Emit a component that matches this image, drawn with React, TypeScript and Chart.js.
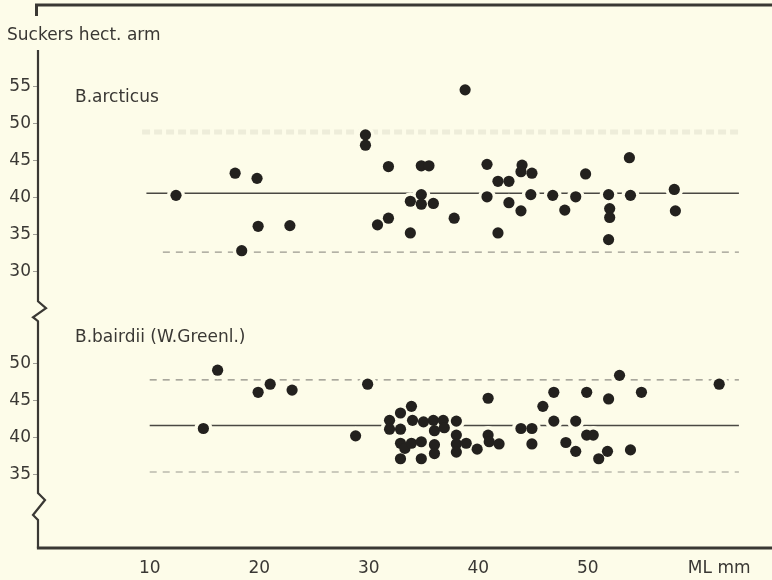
import { useEffect, useRef } from 'react';
import { Chart, registerables } from 'chart.js';

Chart.register(...registerables);

// ---- data ----
const arcticusML = [12.4, 17.8, 18.4, 19.8, 19.9, 22.8, 29.7, 29.7, 30.8, 31.8, 31.8, 33.8, 33.8, 34.8, 35.5, 34.8, 34.8, 35.9, 37.8, 38.8, 40.8, 40.8, 41.8, 41.8, 42.8, 42.8, 44.0, 43.9, 44.9, 43.9, 44.8, 46.8, 47.9, 48.9, 49.8, 51.9, 52.0, 52.0, 51.9, 53.8, 53.9, 57.9, 58.0];
const arcticusSuckers = [40.3, 43.3, 32.8, 42.6, 36.1, 36.2, 48.5, 47.1, 36.3, 44.2, 37.2, 39.5, 35.2, 44.3, 44.3, 40.4, 39.1, 39.2, 37.2, 54.6, 44.5, 40.1, 42.2, 35.2, 42.2, 39.3, 44.4, 43.5, 43.3, 38.2, 40.4, 40.3, 38.3, 40.1, 43.2, 40.4, 38.5, 37.3, 34.3, 45.4, 40.3, 41.1, 38.2];

const bairdiiML = [14.9, 16.2, 19.9, 21.0, 23.0, 28.8, 29.9, 31.9, 31.9, 32.9, 32.9, 32.9, 32.9, 33.3, 33.9, 34.0, 33.9, 34.8, 34.8, 35.0, 35.9, 36.8, 36.0, 36.9, 36.0, 36.0, 38.0, 38.0, 38.0, 38.0, 38.9, 39.9, 40.9, 40.9, 41.0, 41.9, 43.9, 44.9, 44.9, 45.9, 46.9, 46.9, 48.0, 48.9, 48.9, 49.9, 49.9, 50.5, 51.0, 51.8, 51.9, 52.9, 53.9, 54.9, 62.0];
const bairdiiSuckers = [41.2, 49.1, 46.1, 47.2, 46.4, 40.2, 47.2, 42.3, 41.1, 43.3, 41.1, 39.2, 37.1, 38.5, 44.2, 42.3, 39.2, 39.4, 37.1, 42.1, 42.3, 42.3, 40.9, 41.3, 39.0, 37.8, 42.2, 40.3, 39.1, 38.0, 39.2, 38.4, 45.3, 40.3, 39.4, 39.1, 41.2, 41.2, 39.1, 44.2, 46.1, 42.2, 39.3, 42.2, 38.1, 46.1, 40.3, 40.3, 37.1, 38.1, 45.2, 48.4, 38.3, 46.1, 47.2];

// reference lines: mean, upper limit, lower limit
const arcticusRefValues = [40.6, 48.9, 32.6];
const arcticusRefStart = [9.7, 9.3, 11.2];
const arcticusRefEnd = [63.8, 64.0, 63.8];
const bairdiiRefValues = [41.6, 47.8, 35.3];
const bairdiiRefStart = [10, 10, 10];
const bairdiiRefEnd = [63.8, 63.8, 63.8];

const xTicks = [10, 20, 30, 40, 50, 62];
const xTickLabels = ['10', '20', '30', '40', '50', 'ML mm'];
const upperTicks = [30, 35, 40, 45, 50, 55];
const lowerTicks = [35, 40, 45, 50];
const panelLabels = ['B.arcticus', 'B.bairdii (W.Greenl.)'];
const panelLabelValue = 53.5;
const yTitle = 'Suckers hect. arm';

const BG = '#fdfce9';
const INK = '#3a3834';
const DOT = '#23211e';
const FONT = "'DejaVu Sans', 'Liberation Sans', sans-serif";

const toPoints = (xs: number[], ys: number[]) => xs.map((x, i) => ({ x, y: ys[i] }));

export default function App() {
  const ref = useRef<HTMLCanvasElement | null>(null);

  useEffect(() => {
    if (!ref.current) return;
    const arcticus = toPoints(arcticusML, arcticusSuckers);
    const bairdii = toPoints(bairdiiML, bairdiiSuckers);

    const refStyles = [
      { borderColor: '#4a4843', borderWidth: 1.5, borderDash: [] as number[] },
      { borderColor: 'rgba(120,118,100,0.11)', borderWidth: 5, borderDash: [8, 4] },
      { borderColor: '#9a988f', borderWidth: 1.2, borderDash: [7, 6] },
    ];
    const refStylesLower = [
      { borderColor: '#4a4843', borderWidth: 1.5, borderDash: [] as number[] },
      { borderColor: '#8d8b83', borderWidth: 1.2, borderDash: [7, 6] },
      { borderColor: '#9a988f', borderWidth: 1.2, borderDash: [7, 6] },
    ];

    const lineSets: any[] = [];
    arcticusRefValues.forEach((v, i) => {
      lineSets.push({
        type: 'line',
        data: [{ x: arcticusRefStart[i], y: v }, { x: arcticusRefEnd[i], y: v }],
        yAxisID: 'yUpper',
        pointRadius: 0,
        fill: false,
        order: 3,
        ...refStyles[i],
      });
    });
    bairdiiRefValues.forEach((v, i) => {
      lineSets.push({
        type: 'line',
        data: [{ x: bairdiiRefStart[i], y: v }, { x: bairdiiRefEnd[i], y: v }],
        yAxisID: 'yLower',
        pointRadius: 0,
        fill: false,
        order: 3,
        ...refStylesLower[i],
      });
    });

    const halo = (data: any[], axis: string) => ({
      type: 'scatter',
      data,
      yAxisID: axis,
      pointRadius: 9,
      pointBackgroundColor: BG,
      pointBorderWidth: 0,
      order: 2,
    });
    const dots = (data: any[], axis: string) => ({
      type: 'scatter',
      data,
      yAxisID: axis,
      pointRadius: 5.6,
      pointBackgroundColor: DOT,
      pointBorderWidth: 0,
      order: 1,
    });

    const framePlugin = {
      id: 'frame',
      afterDraw(chart: any) {
        const { ctx, chartArea } = chart;
        const L = chartArea.left;
        const B = chartArea.bottom;
        const T = chartArea.top;
        const up = chart.scales.yUpper;
        const lo = chart.scales.yLower;
        const mid = up.bottom;
        ctx.save();
        ctx.strokeStyle = INK;
        ctx.lineJoin = 'miter';
        // top frame line
        ctx.lineWidth = 3;
        ctx.beginPath();
        ctx.moveTo(L - 1.5, 16);
        ctx.lineTo(L - 1.5, 5);
        ctx.lineTo(chart.width, 5);
        ctx.stroke();
        // left axis with breaks, and bottom axis
        ctx.lineWidth = 2.2;
        ctx.beginPath();
        ctx.moveTo(L, T);
        ctx.lineTo(L, mid - 7);
        ctx.lineTo(L + 8, mid);
        ctx.lineTo(L - 5, mid + 9);
        ctx.lineTo(L, mid + 13);
        ctx.lineTo(L, B - 55);
        ctx.lineTo(L + 7, B - 48);
        ctx.lineTo(L - 5, B - 33);
        ctx.lineTo(L, B - 28);
        ctx.lineTo(L, B);
        ctx.stroke();
        ctx.lineWidth = 3;
        ctx.beginPath();
        ctx.moveTo(L - 1.1, B);
        ctx.lineTo(chart.width, B);
        ctx.stroke();
        // panel labels
        ctx.fillStyle = INK;
        ctx.font = `17px ${FONT}`;
        ctx.textBaseline = 'middle';
        ctx.textAlign = 'left';
        ctx.fillText(panelLabels[0], L + 37, up.getPixelForValue(panelLabelValue));
        ctx.fillText(panelLabels[1], L + 37, lo.getPixelForValue(panelLabelValue));
        ctx.restore();
      },
    };

    const yCommon = {
      type: 'linear',
      position: 'left',
      stack: 'panels',
      border: { display: false },
      grid: { drawOnChartArea: false, drawTicks: true, tickLength: 5, color: '#a09e96', lineWidth: 1 },
      ticks: { font: { family: FONT, size: 17 }, color: INK, padding: 2, autoSkip: false },
      afterFit(scale: any) {
        scale.width = 31;
      },
    };

    const chart = new Chart(ref.current, {
      type: 'scatter',
      data: {
        datasets: [
          dots(arcticus, 'yUpper'),
          dots(bairdii, 'yLower'),
          halo(arcticus, 'yUpper'),
          halo(bairdii, 'yLower'),
          ...lineSets,
        ] as any,
      },
      options: {
        animation: false,
        responsive: false,
        layout: { padding: { left: 7, right: 0, top: 0, bottom: 0 } },
        plugins: {
          legend: { display: false },
          tooltip: { enabled: false },
          title: {
            display: true,
            text: yTitle,
            align: 'start',
            color: INK,
            font: { family: FONT, size: 17, weight: 'normal' },
            padding: { top: 25, bottom: 4.6 },
          },
        },
        scales: {
          x: {
            type: 'linear',
            min: -0.2,
            max: 66,
            border: { display: false },
            grid: { display: false },
            ticks: {
              font: { family: FONT, size: 17 },
              color: INK,
              padding: 2,
              autoSkip: false,
              maxRotation: 0,
              callback: (v: any) => {
                const i = xTicks.indexOf(Number(v));
                return i >= 0 ? xTickLabels[i] : '';
              },
            },
            afterBuildTicks(scale: any) {
              scale.ticks = xTicks.map((value) => ({ value }));
            },
            afterFit(scale: any) {
              scale.height = 32;
            },
          },
          yUpper: {
            ...yCommon,
            min: 25,
            max: 60,
            stackWeight: 35,
            weight: 1,
            afterBuildTicks(scale: any) {
              scale.ticks = upperTicks.map((value) => ({ value }));
            },
          },
          yLower: {
            ...yCommon,
            min: 25,
            max: 57.5,
            stackWeight: 32.5,
            weight: 0,
            afterBuildTicks(scale: any) {
              scale.ticks = lowerTicks.map((value) => ({ value }));
            },
          },
        } as any,
      },
      plugins: [framePlugin],
    });
    return () => chart.destroy();
  }, []);

  return (
    <div style={{ position: 'fixed', left: 0, top: 0, width: 772, height: 580, background: BG }}>
      <canvas ref={ref} width={772} height={580} style={{ display: 'block', width: 772, height: 580 }} />
    </div>
  );
}
